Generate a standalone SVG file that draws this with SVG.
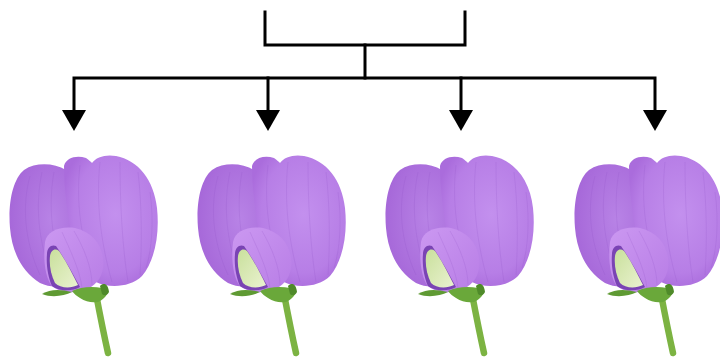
<svg xmlns="http://www.w3.org/2000/svg" width="720" height="357" viewBox="0 0 720 357">
  <style>
    .line { fill: none; stroke: #000; stroke-width: 3; stroke-linecap: square; }
    .head { fill: #000; }
    .vein { fill: none; stroke: #8a4cc0; stroke-width: 0.6; opacity: 0.3; }
  </style>
  <defs>
    <radialGradient id="stdGrad" cx="0.55" cy="0.45" r="0.6">
      <stop offset="0" stop-color="#c390ee"/>
      <stop offset="0.75" stop-color="#b77ee6"/>
      <stop offset="1" stop-color="#aa6cdc"/>
    </radialGradient>
    <radialGradient id="wingGrad" cx="0.6" cy="0.45" r="0.65">
      <stop offset="0" stop-color="#b883e6"/>
      <stop offset="1" stop-color="#a566d8"/>
    </radialGradient>
    <linearGradient id="keelGrad" x1="0" y1="0" x2="1" y2="1">
      <stop offset="0" stop-color="#cb98f1"/>
      <stop offset="1" stop-color="#b87de6"/>
    </linearGradient>
    <linearGradient id="budGrad" x1="0" y1="0" x2="1" y2="1">
      <stop offset="0" stop-color="#c9e09c"/>
      <stop offset="1" stop-color="#eaf2d0"/>
    </linearGradient>
    <g id="flower">
      <!-- stem -->
      <path d="M96,294 C100,315 104,335 108,353" fill="none" stroke="#7cb342" stroke-width="6.5" stroke-linecap="round"/>
      <!-- wing petal (left) -->
      <path d="M66,170 C54,163 36,162 24,170 C12,180 8,205 10,228 C12,252 22,272 40,283 C55,290 70,286 80,276 L72,230 Z" fill="url(#wingGrad)"/>
      <path class="vein" d="M30,176 C22,205 24,240 40,275 M42,172 C35,205 38,240 52,278 M54,172 C48,205 52,240 62,270"/>
      <!-- standard petal (right, back) -->
      <path d="M64,166 C66,158 76,155 86,158 C89,160 91,162 92,163 C96,157 106,154 116,156 C138,160 154,180 157,208 C160,236 154,262 142,276 C130,288 108,288 96,282 C86,275 78,260 72,240 C68,215 64,190 64,166 Z" fill="url(#stdGrad)"/>
      <path class="vein" d="M80,165 C76,200 80,240 96,278 M100,162 C96,200 100,240 112,282 M120,162 C120,200 122,245 128,282 M138,172 C142,205 142,245 140,275 M150,192 C154,220 152,250 146,268"/>
      <!-- keel (front petal) -->
      <path d="M45,242 C47,231 60,226 75,228 C92,232 101,244 103,258 C105,272 99,284 87,289 C75,294 60,293 52,286 C45,278 43,259 45,242 Z" fill="url(#keelGrad)"/>
      <path class="vein" d="M62,232 C70,250 80,270 82,288 M74,231 C84,248 92,268 92,285"/>
      <!-- bud with its dark inner rim -->
      <path d="M47,254 C47,247 52,244 56,246 C63,256 71,270 80,287 C72,292 58,291 52,286 C48,277 46,264 47,254 Z" fill="#7a44b4"/>
      <path d="M50,256 C51,250 55,248 59,251 C66,261 72,273 78,285 C70,289 60,288 55,283 C51,275 49,265 50,256 Z" fill="url(#budGrad)"/>
      <!-- sepals -->
      <path d="M42,294 C50,289 60,289 72,292 C64,296 52,298 42,294 Z" fill="#5f9a33"/>
      <path d="M72,291 C80,287 92,286 102,288 C104,283 106,284 108,290 C108,296 102,300 98,302 C92,303 86,302 80,298 C77,296 74,294 72,291 Z" fill="#6aa83a"/>
      <path d="M100,286 C104,282 108,284 109,292 C107,296 104,296 102,294 Z" fill="#4f8a2a"/>
    </g>
  </defs>

  <!-- connectors: bracket joining the two parents and branch to four offspring -->
  <g id="connectors">
    <path class="line" d="M265,12 V45 H465 V12"/>
    <path class="line" d="M365,45 V78"/>
    <path class="line" d="M74,111 V78 H655 V111"/>
    <path class="line" d="M268,78 V111"/>
    <path class="line" d="M461,78 V111"/>
    <polygon class="head" points="62,110 86,110 74,131"/>
    <polygon class="head" points="256,110 280,110 268,131"/>
    <polygon class="head" points="449,110 473,110 461,131"/>
    <polygon class="head" points="643,110 667,110 655,131"/>
  </g>

  <g id="flower1"><use href="#flower"/></g>
  <g id="flower2"><use href="#flower" transform="translate(188,0)"/></g>
  <g id="flower3"><use href="#flower" transform="translate(376,0)"/></g>
  <g id="flower4"><use href="#flower" transform="translate(565,0)"/></g>
</svg>
